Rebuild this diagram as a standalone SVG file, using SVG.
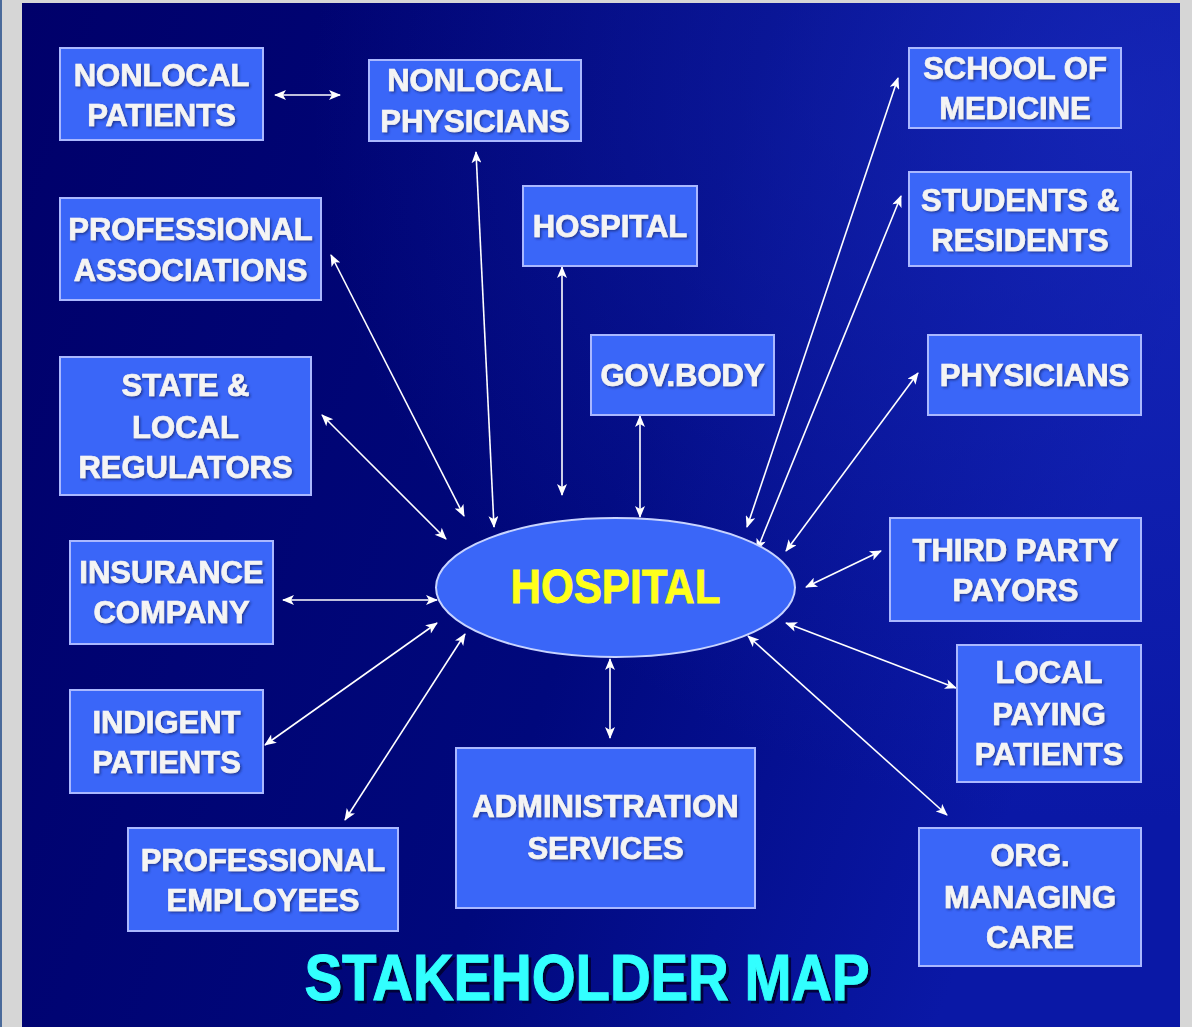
<svg xmlns="http://www.w3.org/2000/svg" width="1192" height="1027" viewBox="0 0 1192 1027">
<defs>
<linearGradient id="bg" x1="0" y1="0" x2="1" y2="0.3">
<stop offset="0" stop-color="#00006a"/>
<stop offset="0.6" stop-color="#00087c"/>
<stop offset="1" stop-color="#0a18a6"/>
</linearGradient>
<radialGradient id="glow" cx="0.95" cy="0.1" r="0.7">
<stop offset="0" stop-color="#1a2cc0" stop-opacity="0.7"/>
<stop offset="1" stop-color="#1a2cc0" stop-opacity="0"/>
</radialGradient>
<filter id="sh" x="-10%" y="-20%" width="120%" height="140%">
<feDropShadow dx="1.5" dy="1.5" stdDeviation="0.8" flood-color="#1a2a80" flood-opacity="0.8"/>
</filter>
<filter id="tsh" x="-10%" y="-20%" width="120%" height="140%">
<feDropShadow dx="3" dy="3" stdDeviation="0.5" flood-color="#000033" flood-opacity="0.9"/>
</filter>
<marker id="ah" viewBox="0 0 12 10" refX="11" refY="5" markerWidth="13" markerHeight="10" markerUnits="userSpaceOnUse" orient="auto-start-reverse">
<path d="M0,0 L12,5 L0,10 L3,5 Z" fill="#ffffff"/>
</marker>
<style>
.box{fill:#3a66f8;stroke:#aab8ff;stroke-width:2}
.t{font-family:"Liberation Sans",Arial,sans-serif;font-weight:bold;font-size:31px;fill:#f4f4f4;stroke:#f4f4f4;stroke-width:0.7;text-anchor:middle;filter:url(#sh)}
.c{stroke:#ffffff;stroke-width:1.6;fill:none;marker-start:url(#ah);marker-end:url(#ah)}
</style>
</defs>
<rect x="0" y="0" width="1192" height="1027" fill="#d6d6d6"/>
<rect x="0" y="0" width="2" height="1027" fill="#4a6a9a"/>
<rect x="22" y="3" width="1158" height="1024" fill="url(#bg)"/>
<rect x="22" y="3" width="1158" height="1024" fill="url(#glow)"/>

<g id="connectors">
<line class="c" x1="275" y1="95" x2="340" y2="95"/>
<line class="c" x1="476" y1="152" x2="494" y2="527"/>
<line class="c" x1="331" y1="255" x2="464" y2="516"/>
<line class="c" x1="562" y1="267" x2="562" y2="495"/>
<line class="c" x1="640" y1="416" x2="640" y2="517"/>
<line class="c" x1="322" y1="415" x2="446" y2="539"/>
<line class="c" x1="898" y1="78" x2="747" y2="527"/>
<line class="c" x1="901" y1="196" x2="757" y2="550"/>
<line class="c" x1="918" y1="373" x2="786" y2="551"/>
<line class="c" x1="881" y1="551" x2="806" y2="587"/>
<line class="c" x1="283" y1="600" x2="437" y2="600"/>
<line class="c" x1="265" y1="745" x2="437" y2="623"/>
<line class="c" x1="345" y1="820" x2="465" y2="634"/>
<line class="c" x1="610" y1="738" x2="610" y2="659"/>
<line class="c" x1="956" y1="688" x2="786" y2="623"/>
<line class="c" x1="947" y1="815" x2="748" y2="636"/>
</g>

<g id="hospital-center">
<ellipse cx="615.5" cy="587.5" rx="179.5" ry="69.5" fill="#3a66f8" stroke="#c8d4ff" stroke-width="2"/>
<text x="615.5" y="603" font-family="Liberation Sans,Arial,sans-serif" font-weight="bold" font-size="49" fill="#ffff1a" stroke="#ffff1a" stroke-width="0.8" text-anchor="middle" textLength="210" lengthAdjust="spacingAndGlyphs">HOSPITAL</text>
</g>

<g id="nonlocal-patients">
<rect class="box" x="60" y="48" width="203" height="92"/>
<text class="t" x="161.5" y="86">NONLOCAL</text>
<text class="t" x="161.5" y="126">PATIENTS</text>
</g>
<g id="nonlocal-physicians">
<rect class="box" x="369" y="60" width="212" height="81"/>
<text class="t" x="475" y="91">NONLOCAL</text>
<text class="t" x="475" y="132">PHYSICIANS</text>
</g>
<g id="professional-associations">
<rect class="box" x="60" y="198" width="261" height="102"/>
<text class="t" x="190.5" y="240">PROFESSIONAL</text>
<text class="t" x="190.5" y="281">ASSOCIATIONS</text>
</g>
<g id="hospital-top">
<rect class="box" x="523" y="186" width="174" height="80"/>
<text class="t" x="610" y="237">HOSPITAL</text>
</g>
<g id="school-of-medicine">
<rect class="box" x="909" y="48" width="212" height="80"/>
<text class="t" x="1015" y="79">SCHOOL OF</text>
<text class="t" x="1015" y="119">MEDICINE</text>
</g>
<g id="students-residents">
<rect class="box" x="909" y="172" width="222" height="94"/>
<text class="t" x="1020" y="211">STUDENTS &amp;</text>
<text class="t" x="1020" y="251">RESIDENTS</text>
</g>
<g id="gov-body">
<rect class="box" x="591" y="335" width="183" height="80"/>
<text class="t" x="682.5" y="386">GOV.BODY</text>
</g>
<g id="physicians">
<rect class="box" x="928" y="335" width="213" height="80"/>
<text class="t" x="1034.5" y="386">PHYSICIANS</text>
</g>
<g id="state-local-regulators">
<rect class="box" x="60" y="357" width="251" height="138"/>
<text class="t" x="185.5" y="396">STATE &amp;</text>
<text class="t" x="185.5" y="438">LOCAL</text>
<text class="t" x="185.5" y="478">REGULATORS</text>
</g>
<g id="insurance-company">
<rect class="box" x="70" y="541" width="203" height="103"/>
<text class="t" x="171.5" y="583">INSURANCE</text>
<text class="t" x="171.5" y="623">COMPANY</text>
</g>
<g id="third-party-payors">
<rect class="box" x="890" y="518" width="251" height="103"/>
<text class="t" x="1015.5" y="561">THIRD PARTY</text>
<text class="t" x="1015.5" y="601">PAYORS</text>
</g>
<g id="indigent-patients">
<rect class="box" x="70" y="690" width="193" height="103"/>
<text class="t" x="166.5" y="733">INDIGENT</text>
<text class="t" x="166.5" y="773">PATIENTS</text>
</g>
<g id="local-paying-patients">
<rect class="box" x="957" y="645" width="184" height="137"/>
<text class="t" x="1049" y="683">LOCAL</text>
<text class="t" x="1049" y="725">PAYING</text>
<text class="t" x="1049" y="765">PATIENTS</text>
</g>
<g id="administration-services">
<rect class="box" x="456" y="748" width="299" height="160"/>
<text class="t" x="605.5" y="817">ADMINISTRATION</text>
<text class="t" x="605.5" y="859">SERVICES</text>
</g>
<g id="professional-employees">
<rect class="box" x="128" y="828" width="270" height="103"/>
<text class="t" x="263" y="871">PROFESSIONAL</text>
<text class="t" x="263" y="911">EMPLOYEES</text>
</g>
<g id="org-managing-care">
<rect class="box" x="919" y="828" width="222" height="138"/>
<text class="t" x="1030" y="866">ORG.</text>
<text class="t" x="1030" y="908">MANAGING</text>
<text class="t" x="1030" y="948">CARE</text>
</g>

<text x="587" y="1000" font-family="Liberation Sans,Arial,sans-serif" font-weight="bold" font-size="64" fill="#33ffff" stroke="#33ffff" stroke-width="1" text-anchor="middle" textLength="565" lengthAdjust="spacingAndGlyphs" filter="url(#tsh)">STAKEHOLDER MAP</text>
</svg>
